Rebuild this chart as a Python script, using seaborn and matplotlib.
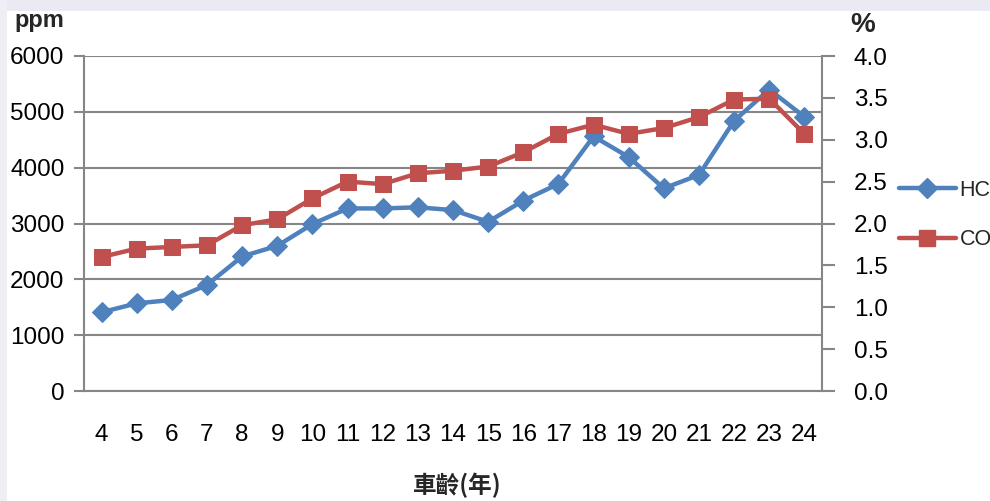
import matplotlib
matplotlib.use("Agg")
import matplotlib.pyplot as plt
import matplotlib.patches as mpatches
from matplotlib.lines import Line2D
from matplotlib import font_manager
import seaborn as sns
import pandas as pd

# Vehicle age (years)
ages = [4, 5, 6, 7, 8, 9, 10, 11, 12, 13, 14, 15, 16, 17, 18, 19, 20, 21, 22, 23, 24]
# HC emissions (ppm, left axis)
hc_ppm = [1410, 1570, 1630, 1900, 2410, 2600, 2990, 3270, 3270, 3290, 3240, 3030,
          3410, 3710, 4560, 4190, 3630, 3870, 4840, 5400, 4910]
# CO emissions (%, right axis)
co_pct = [1.60, 1.70, 1.72, 1.74, 1.98, 2.05, 2.30, 2.50, 2.47, 2.60, 2.63, 2.68,
          2.85, 3.07, 3.18, 3.07, 3.14, 3.27, 3.48, 3.49, 3.07]

left_ticks = [0, 1000, 2000, 3000, 4000, 5000, 6000]
right_ticks = [0.0, 0.5, 1.0, 1.5, 2.0, 2.5, 3.0, 3.5, 4.0]

df = pd.DataFrame({"age": ages, "HC": hc_ppm, "CO": co_pct})

HC_COLOR = "#4F81BD"
CO_COLOR = "#C0504D"
GRID = "#868686"

sns.set_theme(style="white")
plt.rcParams["font.family"] = ["Liberation Sans", "DejaVu Sans"]

# narrow face for the legend if available
installed = {f.name for f in font_manager.fontManager.ttflist}
if "Liberation Sans Narrow" in installed:
    legend_prop = {"family": "Liberation Sans Narrow", "size": 18}
else:
    legend_prop = {"family": "Liberation Sans", "size": 15.5}

fig = plt.figure(figsize=(9.9, 5.01), dpi=100)
fig.patch.set_facecolor("white")

# faint backdrop strips along the top and left edges
fig.patches.append(mpatches.Rectangle((0, 1 - 11 / 501), 1, 11 / 501, transform=fig.transFigure,
                                      facecolor="#ebe9f1", edgecolor="none", zorder=0))
fig.patches.append(mpatches.Rectangle((0, 0), 7 / 990, 1, transform=fig.transFigure,
                                      facecolor="#eeeef5", edgecolor="none", zorder=0))

ax = fig.add_axes([84 / 990, 1 - 391 / 501, (822 - 84) / 990, (391 - 56) / 501])
ax.set_facecolor("white")
ax2 = ax.twinx()

sns.lineplot(data=df, x="age", y="HC", ax=ax, color=HC_COLOR, linewidth=3.2,
             marker="D", markersize=10.5, markeredgecolor=HC_COLOR, zorder=3)
sns.lineplot(data=df, x="age", y="CO", ax=ax2, color=CO_COLOR, linewidth=3.2,
             marker="s", markersize=12, markeredgecolor=CO_COLOR, zorder=4)

ax.set_xlim(ages[0] - 0.5, ages[-1] + 0.5)
ax.set_ylim(0, 6000)
ax2.set_ylim(0, 4.0)
ax.set_yticks(left_ticks)
ax2.set_yticks(right_ticks)
ax.set_yticklabels([str(v) for v in left_ticks])
ax2.set_yticklabels([f"{v:.1f}" for v in right_ticks])
ax.set_xticks(ages)
ax.set_xticklabels([str(a) for a in ages])

ax.grid(axis="y", color=GRID, linewidth=1.5)
ax.set_axisbelow(True)

for a in (ax, ax2):
    for s in a.spines.values():
        s.set_visible(False)
for a, side in ((ax, "left"), (ax, "bottom"), (ax2, "right")):
    a.spines[side].set_visible(True)
    a.spines[side].set_color(GRID)
    a.spines[side].set_linewidth(1.5)

ax.tick_params(axis="y", left=True, length=7, width=1.5, color=GRID, pad=7,
               labelsize=17.5, labelcolor="black")
ax.tick_params(axis="x", bottom=False, pad=18, labelsize=17.5, labelcolor="black")
ax2.tick_params(axis="y", right=True, length=9, width=1.5, color=GRID, pad=14,
                labelsize=17.5, labelcolor="black")

ax.set_xlabel("")
ax.set_ylabel("")
ax2.set_xlabel("")
ax2.set_ylabel("")

# unit labels above each axis
fig.text(14 / 990, 1 - 20 / 501, "ppm", fontsize=17, fontweight="bold", ha="left", va="center")
fig.text(863 / 990, 1 - 25 / 501, "%", fontsize=20, fontweight="bold", ha="center", va="center")

# x-axis title
fig.text(457 / 990, 1 - 485 / 501, "車齡(年)", fontsize=17, fontweight="bold", ha="center",
         va="center", family=["Noto Sans CJK TC", "DejaVu Sans"])

handles = [
    Line2D([], [], color=HC_COLOR, linewidth=3.2, marker="D", markersize=10.5,
           markeredgecolor=HC_COLOR),
    Line2D([], [], color=CO_COLOR, linewidth=3.2, marker="s", markersize=12,
           markeredgecolor=CO_COLOR),
]
fs = legend_prop["size"]
fig.legend(handles, ["HC", "CO"], loc="center left", bbox_to_anchor=(899 / 990, 1 - 215 / 501),
           frameon=False, prop=legend_prop, handlelength=41 / fs, handletextpad=2.5 / fs,
           labelspacing=(50 - fs * 1.39) / (fs * 1.39) * 1.0, borderaxespad=0, borderpad=0)

fig.savefig("out.png", dpi=100, facecolor=fig.get_facecolor())
